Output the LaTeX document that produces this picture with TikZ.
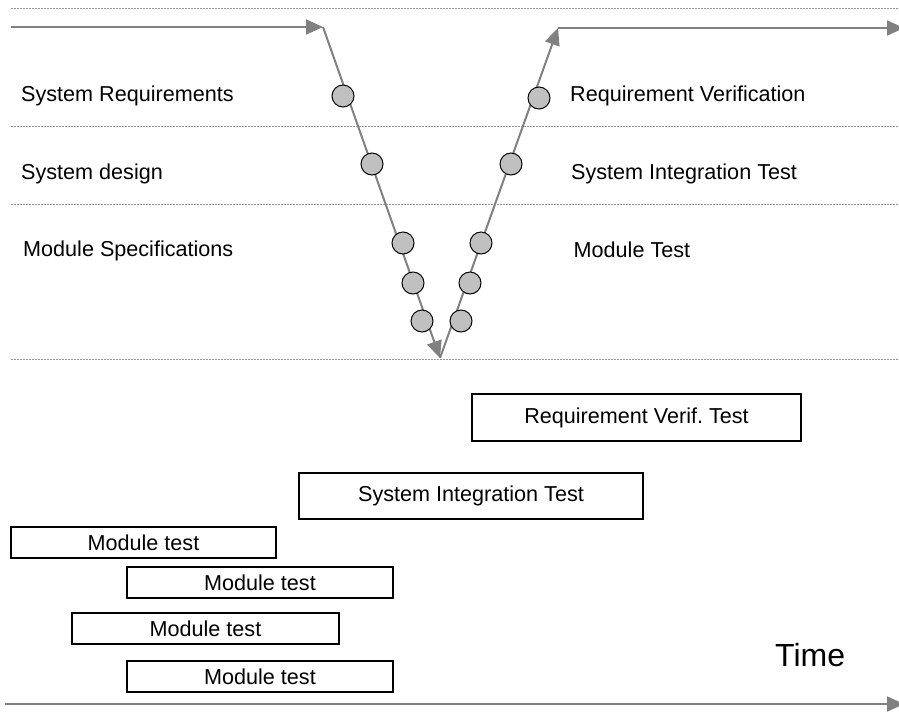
\documentclass[tikz,border=0pt]{standalone}
\usepackage{fontspec}
\setmainfont{Liberation Sans}
\usetikzlibrary{arrows.meta,shadows}

\definecolor{flowgray}{RGB}{128,128,128}
\definecolor{sepgray}{RGB}{150,150,150}
\definecolor{dotfill}{RGB}{192,192,192}

\tikzset{
  flow/.style={draw=flowgray, line width=2pt,
    -{Triangle[length=17pt,width=15pt]}},
  separator/.style={draw=sepgray, line width=0.8pt, dash pattern=on 2pt off 1pt},
  milestone/.style={circle, draw=black, line width=1pt, fill=dotfill,
    minimum size=22pt, inner sep=0pt},
  phase/.style={anchor=base west, inner sep=0pt,
    font=\fontsize{21.6pt}{26pt}\selectfont},
  testbox/.style={draw=black, line width=1.1pt, fill=white, inner sep=0pt,
    font=\fontsize{21.6pt}{26pt}\selectfont,
    drop shadow={shadow xshift=1.2pt, shadow yshift=-1.2pt,
      fill=gray!35, opacity=1}},
}

\begin{document}
\frenchspacing
\begin{tikzpicture}[x=1pt, y=-1pt]
\useasboundingbox (0,0) rectangle (899,713);

% horizontal level separators
\foreach \yy in {8,126,204,359}
  \draw[separator] (11,\yy) -- (899,\yy);

% V-model path
\coordinate (start) at (11,27);
\coordinate (topL) at (323,27);
\coordinate (vtx) at (440,358);
\coordinate (topR) at (558,28);
\coordinate (finish) at (904,28);

\draw[flow] (start) -- (topL);
\draw[flow] (topL) -- (vtx);
\draw[flow] (vtx) -- (topR);
\draw[flow] (topR) -- (finish);

% milestones, descending branch
\node[milestone] (l1) at (343,96) {};
\node[milestone] (l2) at (372,164) {};
\node[milestone] (l3) at (403,243) {};
\node[milestone] (l4) at (413,283) {};
\node[milestone] (l5) at (422,321) {};
% milestones, ascending branch
\node[milestone] (r1) at (539,98) {};
\node[milestone] (r2) at (511,164) {};
\node[milestone] (r3) at (481,243) {};
\node[milestone] (r4) at (470,283) {};
\node[milestone] (r5) at (461,321) {};

% phase names
\node[phase] (sreq) at (21,101) {System Requirements};
\node[phase] (sdes) at (21,179) {System design};
\node[phase] (mspec) at (23,256) {Module Specifications};
\node[phase] (rver) at (570,101) {Requirement Verification};
\node[phase] (sint) at (571,179) {System Integration Test};
\node[phase] (mtest) at (573.5,257) {Module Test};

% test activities over time
\node[testbox, minimum width=329pt, minimum height=47pt] (b1) at (636.5,417.5) {Requirement Verif. Test};
\node[testbox, minimum width=344pt, minimum height=46pt] (b2) at (471,496) {System Integration Test};
\node[testbox, minimum width=265pt, minimum height=31pt] (m1) at (143.5,542.5) {Module test};
\node[testbox, minimum width=266pt, minimum height=31pt] (m2) at (260,582.5) {Module test};
\node[testbox, minimum width=267pt, minimum height=31pt] (m3) at (205.5,628.5) {Module test};
\node[testbox, minimum width=266pt, minimum height=31pt] (m4) at (260,676.5) {Module test};

% time axis
\node[anchor=base west, inner sep=0pt, font=\fontsize{32pt}{38pt}\selectfont] (time) at (775,666) {Time};
\coordinate (t0) at (5,704);
\coordinate (t1) at (904,704);
\draw[flow] (t0) -- (t1);
\end{tikzpicture}
\end{document}
